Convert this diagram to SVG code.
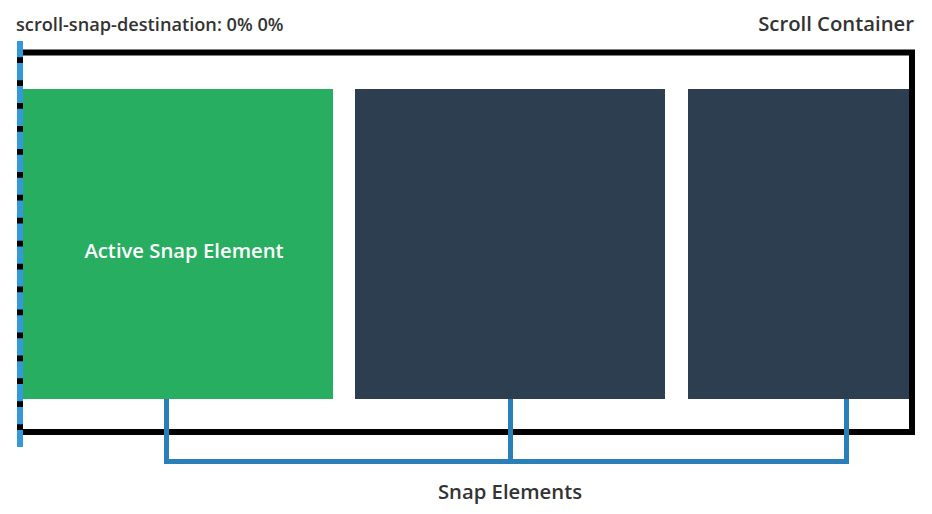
<svg xmlns="http://www.w3.org/2000/svg" width="932" height="514" viewBox="0 0 932 514">
<style>
text{font-family:"Open Sans","Noto Sans","Liberation Sans",sans-serif;font-weight:600;fill:#333}
.lbl{font-size:20.3px}
</style>
<rect width="932" height="514" fill="#fff"/>
<g id="container">
<rect x="20" y="52.5" width="892" height="379.5" fill="none" stroke="#000" stroke-width="6"/>
<text x="914" y="31" text-anchor="end" class="lbl">Scroll Container</text>
</g>
<g id="active-element">
<rect x="23" y="89" width="310" height="310" fill="#27ae60"/>
<text x="184" y="257.5" text-anchor="middle" class="lbl" style="fill:#fff">Active Snap Element</text>
</g>
<g id="element-2">
<rect x="355" y="89" width="310" height="310" fill="#2c3e50"/>
</g>
<g id="element-3">
<rect x="688" y="89" width="221" height="310" fill="#2c3e50"/>
</g>
<g id="destination">
<line x1="20" y1="41" x2="20" y2="447" stroke="#3498db" stroke-width="6" stroke-dasharray="17.2 5.74" stroke-dashoffset="1"/>
<text x="16" y="31" style="font-size:18.2px">scroll-snap-destination: 0% 0%</text>
</g>
<g id="connectors">
<path d="M166.5 399V461.5H846.5V399M510.5 399V461.5" fill="none" stroke="#2980b9" stroke-width="5"/>
</g>
<g id="snap-label">
<text x="510" y="498.5" text-anchor="middle" class="lbl">Snap Elements</text>
</g>
</svg>
